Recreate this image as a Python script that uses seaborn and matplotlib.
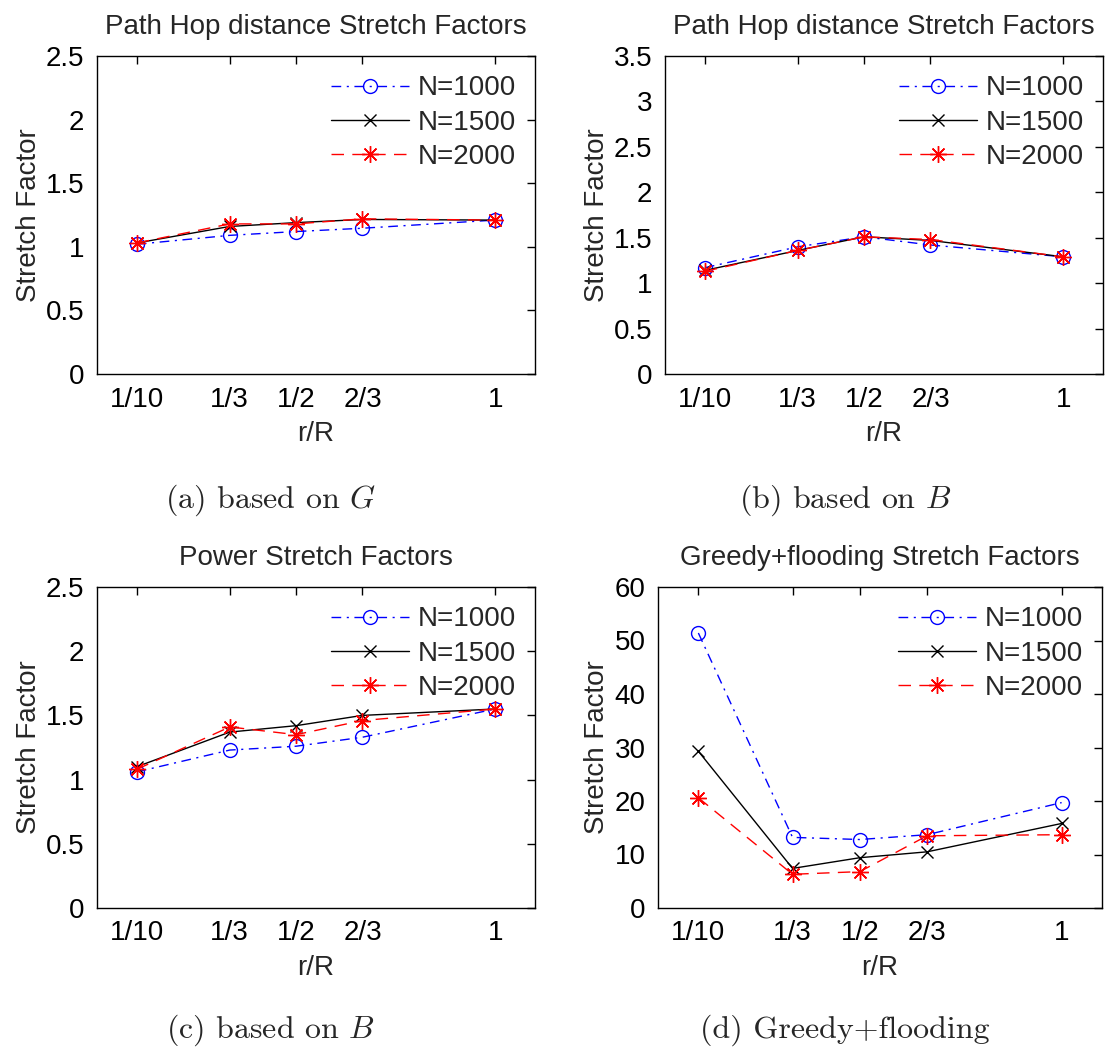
import numpy as np
import pandas as pd
import matplotlib
matplotlib.use("Agg")
import matplotlib.pyplot as plt
from matplotlib.ticker import FormatStrFormatter
import seaborn as sns

# x positions (r/R) and their tick labels
r_vals = [0.1, 1/3, 0.5, 2/3, 1.0]
r_labels = ["1/10", "1/3", "1/2", "2/3", "1"]
series_names = ["N=1000", "N=1500", "N=2000"]

# (a) path hop distance, based on G
hop_g_1000 = [1.02, 1.09, 1.12, 1.146, 1.21]
hop_g_1500 = [1.03, 1.16, 1.19, 1.215, 1.21]
hop_g_2000 = [1.03, 1.18, 1.18, 1.22, 1.21]

# (b) path hop distance, based on B
hop_b_1000 = [1.17, 1.40, 1.51, 1.42, 1.29]
hop_b_1500 = [1.14, 1.36, 1.51, 1.47, 1.29]
hop_b_2000 = [1.13, 1.36, 1.51, 1.48, 1.29]

# (c) power stretch, based on B
pow_1000 = [1.06, 1.23, 1.26, 1.33, 1.55]
pow_1500 = [1.10, 1.37, 1.42, 1.50, 1.55]
pow_2000 = [1.08, 1.41, 1.35, 1.46, 1.55]

# (d) greedy + flooding
gf_1000 = [51.4, 13.2, 12.8, 13.7, 19.7]
gf_1500 = [29.3, 7.4, 9.4, 10.5, 15.8]
gf_2000 = [20.6, 6.3, 6.8, 13.5, 13.7]

titles = ["Path Hop distance Stretch Factors", "Path Hop distance Stretch Factors",
          "Power Stretch Factors", "Greedy+flooding Stretch Factors"]
captions = ["(a) based on $G$", "(b) based on $B$", "(c) based on $B$", "(d) Greedy+flooding"]
y_ticks = [np.arange(0, 2.51, 0.5), np.arange(0, 3.51, 0.5),
           np.arange(0, 2.51, 0.5), np.arange(0, 61, 10)]

panels = [
    [hop_g_1000, hop_g_1500, hop_g_2000],
    [hop_b_1000, hop_b_1500, hop_b_2000],
    [pow_1000, pow_1500, pow_2000],
    [gf_1000, gf_1500, gf_2000],
]

sns.set_style("white")
plt.rcParams["font.family"] = ["Liberation Sans", "DejaVu Sans"]
plt.rcParams["mathtext.fontset"] = "cm"

styles = {
    "N=1000": dict(color="blue", linestyle=(0, (7, 4, 1.5, 4)), marker="o",
                   markersize=10, markerfacecolor="none", markeredgecolor="blue",
                   markeredgewidth=1.0),
    "N=1500": dict(color="black", linestyle="-", marker="x", markersize=9,
                   markeredgecolor="black", markeredgewidth=1.0),
    "N=2000": dict(color="red", linestyle=(0, (9, 6)), marker=(8, 2, 0),
                   markersize=12, markeredgecolor="red", markeredgewidth=1.0),
}

W, H = 1105, 1051
fig = plt.figure(figsize=(W / 100, H / 100), dpi=100)

# axes boxes in pixel units: left, top, right, bottom
boxes = [(97, 56, 535, 374), (665, 56, 1103, 374),
         (97, 587, 535, 908), (658, 587, 1102, 908)]
caption_pos = [(270, 500), (845, 500), (270, 1030), (845, 1030)]

FS = 20
for i, (box, vals) in enumerate(zip(boxes, panels)):
    l, t, r, b = box
    ax = fig.add_axes([l / W, 1 - b / H, (r - l) / W, (b - t) / H])
    for name, v in zip(series_names, vals):
        df = pd.DataFrame({"r/R": r_vals, "Stretch Factor": v})
        sns.lineplot(data=df, x="r/R", y="Stretch Factor", ax=ax, label=name,
                     linewidth=1.0, sort=False, **styles[name])
    ax.set_xlim(0, 1.1)
    yt = y_ticks[i]
    ax.set_ylim(yt[0], yt[-1])
    ax.set_yticks(yt)
    ax.yaxis.set_major_formatter(FormatStrFormatter("%g"))
    ax.set_xticks(r_vals)
    ax.set_xticklabels(r_labels)
    ax.tick_params(direction="in", length=6, width=1.0, labelsize=FS,
                   top=True, right=True, pad=9, colors="black")
    for s in ax.spines.values():
        s.set_color("black")
        s.set_linewidth(1.0)
    ax.set_xlabel("r/R", fontsize=FS, labelpad=6)
    ax.set_ylabel("Stretch Factor", fontsize=FS, labelpad=3)
    ax.set_title(titles[i], fontsize=FS, pad=16)
    ax.legend(loc="upper right", bbox_to_anchor=(1.0, 1.0), frameon=False,
              fontsize=FS, handlelength=2.8, handletextpad=0.3,
              labelspacing=0.3, borderaxespad=0.3)
    cx, cy = caption_pos[i]
    fig.text(cx / W, 1 - cy / H, captions[i], fontsize=23, family="cmr10",
             ha="center", va="center")

fig.savefig("out.png", dpi=100)
